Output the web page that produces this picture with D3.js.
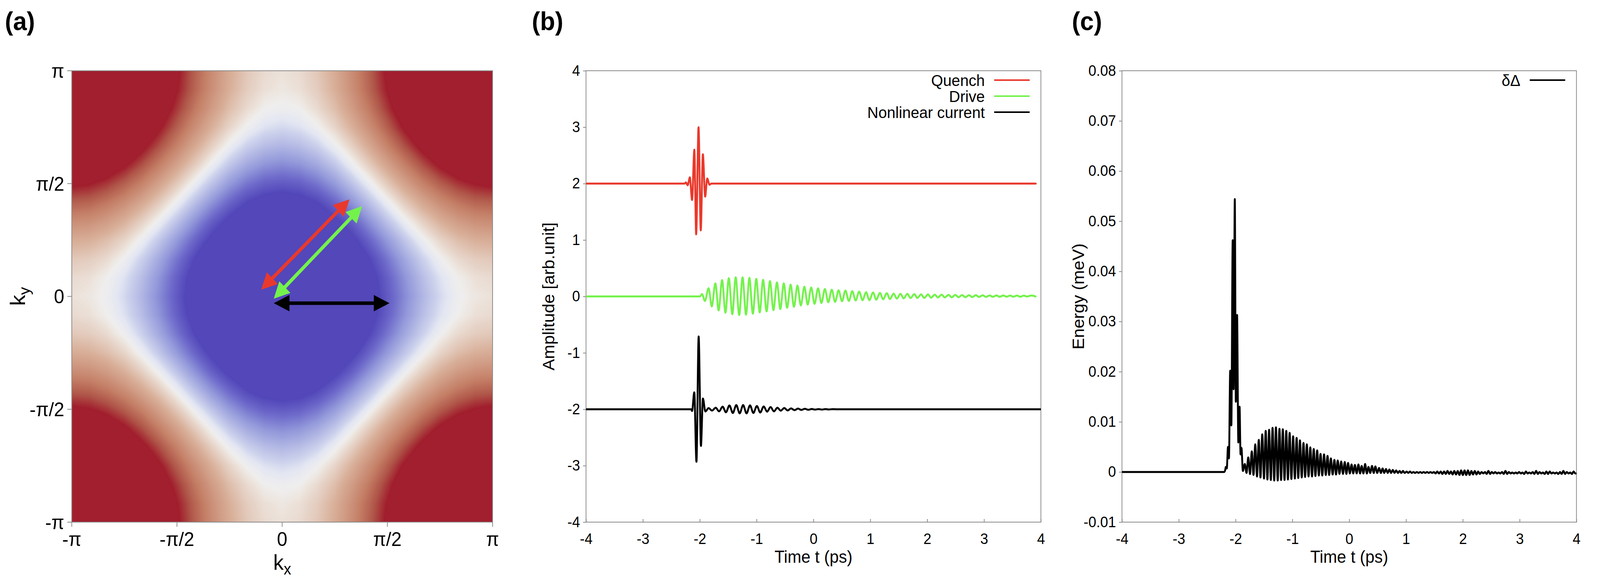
<!DOCTYPE html>
<html><head><meta charset="utf-8">
<script src="https://cdn.jsdelivr.net/npm/d3@7"></script>
<style>
html,body{margin:0;padding:0;background:#fff;width:100%;height:100%;overflow:hidden;}
svg{display:block;font-family:"Liberation Sans",Arial,Helvetica,sans-serif;}
</style></head><body>
<svg id="chart" width="100%" height="100%" viewBox="0 0 4281 1502" preserveAspectRatio="none"></svg>
<script>
// ---------------- DATA ----------------
// (a) band energy sampled on a quadrant grid, |kx|,|ky| = 0, π/12, ..., π (read from the colour map)
const bandQuadrant = [
 [1.65,1.62,1.53,1.39,1.21,1.01,0.78,0.56,0.35,0.17,0.03,-0.05,-0.08],
 [1.62,1.59,1.50,1.36,1.18,0.97,0.75,0.52,0.31,0.13,0.00,-0.09,-0.12],
 [1.53,1.50,1.41,1.27,1.09,0.88,0.65,0.42,0.21,0.02,-0.12,-0.20,-0.23],
 [1.39,1.36,1.27,1.13,0.94,0.72,0.49,0.26,0.04,-0.15,-0.29,-0.38,-0.41],
 [1.21,1.18,1.09,0.94,0.75,0.52,0.28,0.04,-0.18,-0.38,-0.53,-0.62,-0.65],
 [1.01,0.97,0.88,0.72,0.52,0.29,0.04,-0.21,-0.44,-0.64,-0.79,-0.89,-0.92],
 [0.78,0.75,0.65,0.49,0.28,0.04,-0.22,-0.48,-0.72,-0.92,-1.08,-1.18,-1.22],
 [0.56,0.52,0.42,0.26,0.04,-0.21,-0.48,-0.74,-0.99,-1.21,-1.37,-1.48,-1.51],
 [0.35,0.31,0.21,0.04,-0.18,-0.44,-0.72,-0.99,-1.25,-1.47,-1.64,-1.75,-1.79],
 [0.17,0.13,0.02,-0.15,-0.38,-0.64,-0.92,-1.21,-1.47,-1.70,-1.87,-1.98,-2.02],
 [0.03,0.00,-0.12,-0.29,-0.53,-0.79,-1.08,-1.37,-1.64,-1.87,-2.05,-2.16,-2.20],
 [-0.05,-0.09,-0.20,-0.38,-0.62,-0.89,-1.18,-1.48,-1.75,-1.98,-2.16,-2.28,-2.31],
 [-0.08,-0.12,-0.23,-0.41,-0.65,-0.92,-1.22,-1.51,-1.79,-2.02,-2.20,-2.31,-2.35]
];
const kTickValues = [-1,-0.5,0,0.5,1];            // in units of π
const kTickLabels = ["-π","-π/2","0","π/2","π"];
// arrows in (a), endpoints in units of π: [x1,y1,x2,y2]
const arrowQuench = [-0.10, 0.03, 0.32, 0.43];
const arrowDrive  = [-0.04,-0.01, 0.38, 0.40];
const arrowCurrent= [-0.04,-0.03, 0.51,-0.03];

// (b) time traces: [t (ps), amplitude]
const timeTicks = [-4,-3,-2,-1,0,1,2,3,4];
const ampTicks = [-4,-3,-2,-1,0,1,2,3,4];
const legendB = ["Quench","Drive","Nonlinear current"];
const quench = [[-4,2],[-2.265,2],[-2.243,2.02],[-2.212,1.97],[-2.174,2.11],[-2.135,1.71],[-2.095,2.60],[-2.063,1.10],
 [-2.021,3.00],[-1.982,1.17],[-1.945,2.52],[-1.905,1.77],[-1.868,2.09],[-1.828,1.98],[-1.795,2],[3.91,2]];
const drive = [[-4,0],[-1.997,0],[-1.960,0.042],[-1.909,-0.080],[-1.844,0.146],[-1.789,-0.177],[-1.725,0.231],[-1.668,-0.247],
 [-1.607,0.289],[-1.548,-0.288],[-1.489,0.324],[-1.427,-0.316],[-1.368,0.340],[-1.306,-0.330],[-1.247,0.340],[-1.186,-0.323],
 [-1.127,0.330],[-1.066,-0.307],[-1.006,0.312],[-0.945,-0.283],[-0.886,0.294],[-0.824,-0.265],[-0.765,0.271],[-0.704,-0.242],
 [-0.642,0.247],[-0.583,-0.224],[-0.522,0.231],[-0.463,-0.200],[-0.402,0.208],[-0.343,-0.184],[-0.281,0.192],[-0.222,-0.161],
 [-0.160,0.174],[-0.101,-0.145],[-0.040,0.160],[0.019,-0.131],[0.081,0.143],[0.140,-0.117],[0.201,0.132],[0.260,-0.103],
 [0.322,0.120],[0.381,-0.097],[0.442,0.109],[0.502,-0.085],[0.563,0.104],[0.622,-0.080],[0.683,0.093],[0.742,-0.073],
 [0.804,0.085],[0.863,-0.067],[0.926,0.074],[0.983,-0.065],[1.049,0.069],[1.104,-0.058],[1.170,0.062],[1.225,-0.051],
 [1.290,0.058],[1.345,-0.046],[1.411,0.051],[1.466,-0.039],[1.531,0.046],[1.586,-0.035],[1.652,0.046],[1.707,-0.030],
 [1.773,0.042],[1.827,-0.028],[1.893,0.037],[1.948,-0.028],[2.014,0.037],[2.068,-0.023],[2.134,0.032],[2.189,-0.018],
 [2.255,0.032],[2.309,-0.018],[2.375,0.028],[2.430,-0.016],[2.496,0.028],[2.550,-0.014],[2.616,0.025],[2.671,-0.014],
 [2.737,0.023],[2.791,-0.012],[2.857,0.023],[2.912,-0.009],[2.978,0.021],[3.033,-0.009],[3.098,0.018],[3.153,-0.007],
 [3.219,0.018],[3.274,-0.007],[3.339,0.018],[3.394,-0.005],[3.460,0.016],[3.515,-0.005],[3.580,0.016],[3.635,-0.005],
 [3.701,0.014],[3.756,-0.002],[3.832,0.016],[3.907,0.000]];
const current = [[-4,-2],[-2.15,-2],[-2.135,-2.03],[-2.096,-1.70],[-2.058,-2.93],[-2.019,-0.71],[-1.979,-2.65],[-1.944,-1.81],
 [-1.901,-2.04],[-1.844,-1.98],[-1.784,-2.023],[-1.719,-1.972],[-1.660,-2.037],[-1.598,-1.954],[-1.539,-2.053],[-1.478,-1.933],
 [-1.418,-2.065],[-1.357,-1.926],[-1.298,-2.072],[-1.237,-1.926],[-1.177,-2.072],[-1.116,-1.931],[-1.057,-2.065],[-0.995,-1.942],
 [-0.936,-2.058],[-0.875,-1.949],[-0.816,-2.042],[-0.754,-1.961],[-0.695,-2.037],[-0.634,-1.972],[-0.575,-2.025],[-0.513,-1.977],
 [-0.454,-2.021],[-0.393,-1.984],[-0.334,-2.016],[-0.272,-1.988],[-0.213,-2.012],[-0.152,-1.991],[-0.092,-2.009],[-0.03,-1.995],
 [0.03,-2.006],[0.09,-1.996],[0.15,-2.005],[0.21,-1.997],[0.27,-2.004],[0.33,-1.998],[0.40,-2.0],[4,-2]];

// (c) gap oscillation δΔ: [t (ps), energy (meV)]
const energyTicks = [-0.01,0,0.01,0.02,0.03,0.04,0.05,0.06,0.07,0.08];
const legendC = ["δΔ"];
const gap = [[-4,0],[-2.20,0],[-2.185,0.0003],[-2.171,0.0010],[-2.155,0.0007],[-2.134,0.0050],[-2.117,0.0027],[-2.095,0.0202],
 [-2.075,0.0093],[-2.051,0.0462],[-2.035,0.0165],[-2.014,0.0544],[-1.996,0.0140],[-1.974,0.0313],[-1.952,0.0059],[-1.930,0.0130],
 [-1.913,0.0035],[-1.897,0.0048],[-1.872,0.0002],
 [-1.838,0.0016],[-1.808,-0.0002],[-1.777,0.0029],[-1.746,-0.0004],[-1.715,0.0041],[-1.685,-0.0006],[-1.654,0.0055],[-1.623,-0.0009],
 [-1.592,0.0064],[-1.562,-0.0011],[-1.531,0.0075],[-1.500,-0.0013],[-1.470,0.0082],[-1.440,-0.0015],[-1.410,0.0084],[-1.380,-0.0016],
 [-1.349,0.0088],[-1.320,-0.0017],[-1.290,0.0089],[-1.259,-0.0017],[-1.228,0.0086],[-1.199,-0.0016],[-1.169,0.0085],[-1.139,-0.0016],
 [-1.108,0.0082],[-1.079,-0.0015],[-1.049,0.0078],[-1.018,-0.0014],[-0.987,0.0071],[-0.957,-0.0013],[-0.926,0.0068],[-0.897,-0.0012],
 [-0.867,0.0063],[-0.836,-0.0011],[-0.805,0.0058],[-0.776,-0.0010],[-0.746,0.0055],[-0.716,-0.0009],[-0.685,0.0049],[-0.655,-0.0009],
 [-0.625,0.0046],[-0.595,-0.0008],[-0.564,0.0043],[-0.535,-0.0007],[-0.505,0.0036],[-0.474,-0.0007],[-0.443,0.0035],[-0.413,-0.0006],
 [-0.382,0.0032],[-0.353,-0.0006],[-0.323,0.0027],[-0.292,-0.0005],[-0.261,0.0024],[-0.232,-0.0005],[-0.202,0.0023],[-0.172,-0.0004],
 [-0.141,0.0021],[-0.110,-0.0004],[-0.079,0.0020],[-0.050,-0.0004],[-0.020,0.0018],[0.011,-0.0003],[0.041,0.0015],[0.071,-0.0003],
 [0.100,0.0014],[0.131,-0.0003],[0.162,0.0015],[0.191,-0.0003],[0.219,0.0012],[0.250,-0.0003],[0.280,0.0016],[0.310,-0.0003],
 [0.339,0.0010],[0.370,-0.0002],[0.401,0.0012],[0.431,-0.0002],[0.460,0.0011],[0.493,-0.0002],[0.526,0.0008],[0.557,-0.0002],
 [0.587,0.0007],[0.617,-0.0002],[0.647,0.0006],[0.677,-0.0002],[0.707,0.0005],[0.737,-0.0002],[0.767,0.0004],[0.797,-0.0002],
 [0.827,0.0003],[0.857,-0.0002],[0.887,0.0002],[0.917,-0.0002],[0.947,0.0002],[0.977,-0.0002],[1.01,0.0001],[1.04,-0.0002],
 [1.07,0.0001],[1.10,-0.0002],[1.13,0.0000],[1.16,-0.0002],[1.19,0.0000],[1.22,-0.0002],[1.25,0.0000],[1.28,-0.0002],
 [1.31,0.0000],[1.34,-0.0002],[1.37,0.0000],[1.40,-0.0002],[1.43,0.0000],[1.46,-0.0002],[1.49,0.0000],[1.52,-0.0003],
 [1.55,0.0001],[1.58,-0.0003],[1.61,0.0001],[1.64,-0.0004],[1.67,0.0001],[1.70,-0.0004],[1.73,0.0002],[1.76,-0.0004],
 [1.79,0.0001],[1.82,-0.0005],[1.85,0.0002],[1.88,-0.0005],[1.91,0.0002],[1.94,-0.0006],[1.97,0.0003],[2.00,-0.0006],
 [2.03,0.0003],[2.06,-0.0006],[2.09,0.0003],[2.12,-0.0006],[2.15,0.0002],[2.18,-0.0005],[2.21,0.0002],[2.24,-0.0005],
 [2.27,0.0001],[2.30,-0.0004],[2.33,0.0000],[2.36,-0.0003],[2.39,0.0000],[2.42,-0.0004],[2.45,0.0002],[2.48,-0.0004],
 [2.51,0.0000],[2.54,-0.0003],[2.57,0.0000],[2.60,-0.0003],[2.63,-0.0001],[2.66,-0.0003],[2.69,0.0000],[2.72,-0.0004],
 [2.75,0.0002],[2.78,-0.0004],[2.81,0.0000],[2.84,-0.0003],[2.87,-0.0001],[2.90,-0.0003],[2.93,-0.0001],[2.96,-0.0003],
 [2.99,0.0000],[3.02,-0.0003],[3.05,-0.0001],[3.08,-0.0004],[3.11,0.0001],[3.14,-0.0003],[3.17,-0.0001],[3.20,-0.0003],
 [3.23,0.0000],[3.26,-0.0004],[3.29,0.0002],[3.32,-0.0004],[3.35,0.0000],[3.38,-0.0003],[3.41,-0.0001],[3.44,-0.0004],
 [3.47,0.0001],[3.50,-0.0004],[3.53,0.0001],[3.56,-0.0003],[3.59,-0.0001],[3.62,-0.0003],[3.65,-0.0001],[3.68,-0.0004],
 [3.71,0.0000],[3.74,-0.0004],[3.77,0.0002],[3.80,-0.0004],[3.83,0.0000],[3.86,-0.0003],[3.89,-0.0001],[3.92,-0.0004],
 [3.95,0.0001],[3.98,-0.0003],[4.0,-0.0003]];

// colour map stops (band value -> colour)
const cmapStops  = [-1.17,-0.97,-0.76,-0.38,-0.15,-0.08,0,0.1,0.2,0.5,0.7,0.88];
const cmapColors = ["#a11f2e","#b0574a","#c47e66","#d9b09a","#e7d5ca","#ece2da","#efeeee","#e4e7f2","#ccd1ec","#9399da","#6d69ca","#5347b9"];

// ---------------- DRAW ----------------
const svg = d3.select("#chart");
const TOP = 181, BOT = 1336;
const GRAY = "#8a8a8a";
const RED = "#e9392c", GREEN = "#74f24c", BLACK = "#000";

// panel letters
[["(a)",13],["(b)",1423],["(c)",2868]].forEach(([t,x]) =>
  svg.append("text").attr("x",x).attr("y",77).attr("font-size",66).attr("font-weight","bold").text(t));

// ---------- (a) ----------
const ax = d3.scaleLinear().domain([-1,1]).range([192,1318]);
const ay = d3.scaleLinear().domain([-1,1]).range([BOT,TOP]);
const N = 25, H = 12;
const values = new Array(N*N);
for (let r=0;r<N;r++) for (let c=0;c<N;c++) values[r*N+c] = bandQuadrant[Math.abs(c-H)][Math.abs(r-H)];
const cmap = d3.scaleLinear().domain(cmapStops).range(cmapColors).clamp(true);
const thresholds = d3.range(-1.18, 0.895, 0.01);
const contours = d3.contours().size([N,N]).thresholds(thresholds)(values);
const proj = d3.geoTransform({point(u,v){ this.stream.point(ax(-1+(u-0.5)/H), ay(1-(v-0.5)/H)); }});
const gpath = d3.geoPath(proj);
svg.append("clipPath").attr("id","clipA").append("rect")
  .attr("x",ax(-1)).attr("y",TOP).attr("width",ax(1)-ax(-1)).attr("height",BOT-TOP);
const gA = svg.append("g").attr("clip-path","url(#clipA)");
gA.append("rect").attr("x",ax(-1)).attr("y",TOP).attr("width",ax(1)-ax(-1)).attr("height",BOT-TOP).attr("fill",cmap(-2));
gA.selectAll("path.band").data(contours).join("path").attr("class","band")
  .attr("d",gpath).attr("fill",d=>cmap(d.value)).attr("stroke",d=>cmap(d.value)).attr("stroke-width",0.6);

// arrows
function drawArrow(a, color){
  const x1=ax(a[0]), y1=ay(a[1]), x2=ax(a[2]), y2=ay(a[3]);
  const L=Math.hypot(x2-x1,y2-y1), ux=(x2-x1)/L, uy=(y2-y1)/L, nx=-uy, ny=ux;
  const HL=42, HW=21, SW=9;
  const g = gA.append("g");
  g.append("line").attr("x1",x1+ux*HL*0.8).attr("y1",y1+uy*HL*0.8).attr("x2",x2-ux*HL*0.8).attr("y2",y2-uy*HL*0.8)
    .attr("stroke",color).attr("stroke-width",SW);
  const head=(px,py,dx,dy)=>`M${px},${py}L${px-dx*HL+nx*HW},${py-dy*HL+ny*HW}L${px-dx*HL-nx*HW},${py-dy*HL-ny*HW}Z`;
  g.append("path").attr("d",head(x2,y2,ux,uy)).attr("fill",color);
  g.append("path").attr("d",head(x1,y1,-ux,-uy)).attr("fill",color);
}
drawArrow(arrowQuench, RED);
drawArrow(arrowDrive, GREEN);
drawArrow(arrowCurrent, BLACK);

// frame & ticks (a)
svg.append("rect").attr("x",ax(-1)).attr("y",TOP).attr("width",ax(1)-ax(-1)).attr("height",BOT-TOP)
  .attr("fill","none").attr("stroke",GRAY).attr("stroke-width",2);
const gax = svg.append("g");
kTickValues.forEach((v,i)=>{
  gax.append("line").attr("x1",ax(v)).attr("x2",ax(v)).attr("y1",BOT).attr("y2",BOT+12).attr("stroke",GRAY).attr("stroke-width",2);
  gax.append("line").attr("y1",ay(v)).attr("y2",ay(v)).attr("x1",ax(-1)-12).attr("x2",ax(-1)).attr("stroke",GRAY).attr("stroke-width",2);
  gax.append("text").attr("x",ax(v)).attr("y",1397).attr("text-anchor","middle").attr("font-size",50).text(kTickLabels[i]);
  gax.append("text").attr("x",172).attr("y",ay(v)).attr("dy","0.36em").attr("text-anchor","end").attr("font-size",50).text(kTickLabels[i]);
});
const kxl = svg.append("text").attr("x",ax(0)).attr("y",1458).attr("text-anchor","middle").attr("font-size",56);
kxl.append("tspan").text("k"); kxl.append("tspan").attr("font-size",40).attr("dy",12).text("x");
const kyl = svg.append("text").attr("transform",`translate(67,${(TOP+BOT)/2}) rotate(-90)`).attr("text-anchor","middle").attr("font-size",56);
kyl.append("tspan").text("k"); kyl.append("tspan").attr("font-size",40).attr("dy",12).text("y");

// ---------- generic line panel ----------
function linePanel(opt){
  const x = d3.scaleLinear().domain([-4,4]).range(opt.xr);
  const y = d3.scaleLinear().domain(opt.yd).range([BOT,TOP]);
  const id = "clip"+opt.id;
  svg.append("clipPath").attr("id",id).append("rect").attr("x",opt.xr[0]).attr("y",TOP).attr("width",opt.xr[1]-opt.xr[0]).attr("height",BOT-TOP);
  const gy = svg.append("g").attr("transform",`translate(${opt.xr[0]},0)`)
    .call(d3.axisLeft(y).tickValues(opt.yticks).tickFormat(opt.yfmt).tickSize(8).tickSizeOuter(0).tickPadding(8));
  const gx = svg.append("g").attr("transform",`translate(0,${BOT})`)
    .call(d3.axisBottom(x).tickValues(timeTicks).tickFormat(d=>String(d)).tickSize(-8).tickSizeOuter(0).tickPadding(29));
  [gx,gy].forEach(g=>{
    g.select(".domain").remove();
    g.selectAll(".tick line").attr("stroke",GRAY).attr("stroke-width",2);
    g.selectAll(".tick text").attr("font-size",38).attr("fill","#000");
    g.attr("font-family",null).attr("font-size",null);
  });
  svg.append("rect").attr("x",opt.xr[0]).attr("y",TOP).attr("width",opt.xr[1]-opt.xr[0]).attr("height",BOT-TOP)
    .attr("fill","none").attr("stroke",GRAY).attr("stroke-width",2);
  svg.append("text").attr("x",(opt.xr[0]+opt.xr[1])/2).attr("y",1440).attr("text-anchor","middle").attr("font-size",44).text("Time t (ps)");
  svg.append("text").attr("transform",`translate(${opt.ylx},${(TOP+BOT)/2}) rotate(-90)`).attr("text-anchor","middle")
    .attr("font-size",44).text(opt.ylabel);
  const line = d3.line().x(d=>x(d[0])).y(d=>y(d[1])).curve(d3.curveMonotoneX);
  const g = svg.append("g").attr("clip-path",`url(#${id})`);
  opt.series.forEach(s=>{
    g.append("path").datum(s.data).attr("d",line).attr("fill","none").attr("stroke",s.color)
      .attr("stroke-width",5).attr("stroke-linejoin","round").attr("stroke-linecap","round");
  });
  const lx1 = opt.xr[1]-125, lx2 = opt.xr[1]-30;
  opt.series.forEach((s,i)=>{
    const ly = 205 + i*41;
    svg.append("text").attr("x",lx1-25).attr("y",ly).attr("dy","0.36em").attr("text-anchor","end").attr("font-size",41).text(s.name);
    svg.append("line").attr("x1",lx1).attr("x2",lx2).attr("y1",ly).attr("y2",ly).attr("stroke",s.color).attr("stroke-width",4);
  });
}

linePanel({id:"B", xr:[1568,2785], yd:[-4,4], yticks:ampTicks, yfmt:d=>String(d), ylx:1483, ylabel:"Amplitude [arb.unit]",
  series:[{name:legendB[0],data:quench,color:RED},{name:legendB[1],data:drive,color:GREEN},{name:legendB[2],data:current,color:BLACK}]});
linePanel({id:"C", xr:[3002,4218], yd:[-0.01,0.08], yticks:energyTicks,
  yfmt:d=> d===0 ? "0" : (d<0?"-":"")+Math.abs(d).toFixed(2), ylx:2900, ylabel:"Energy (meV)",
  series:[{name:legendC[0],data:gap,color:BLACK}]});
</script>
</body></html>
